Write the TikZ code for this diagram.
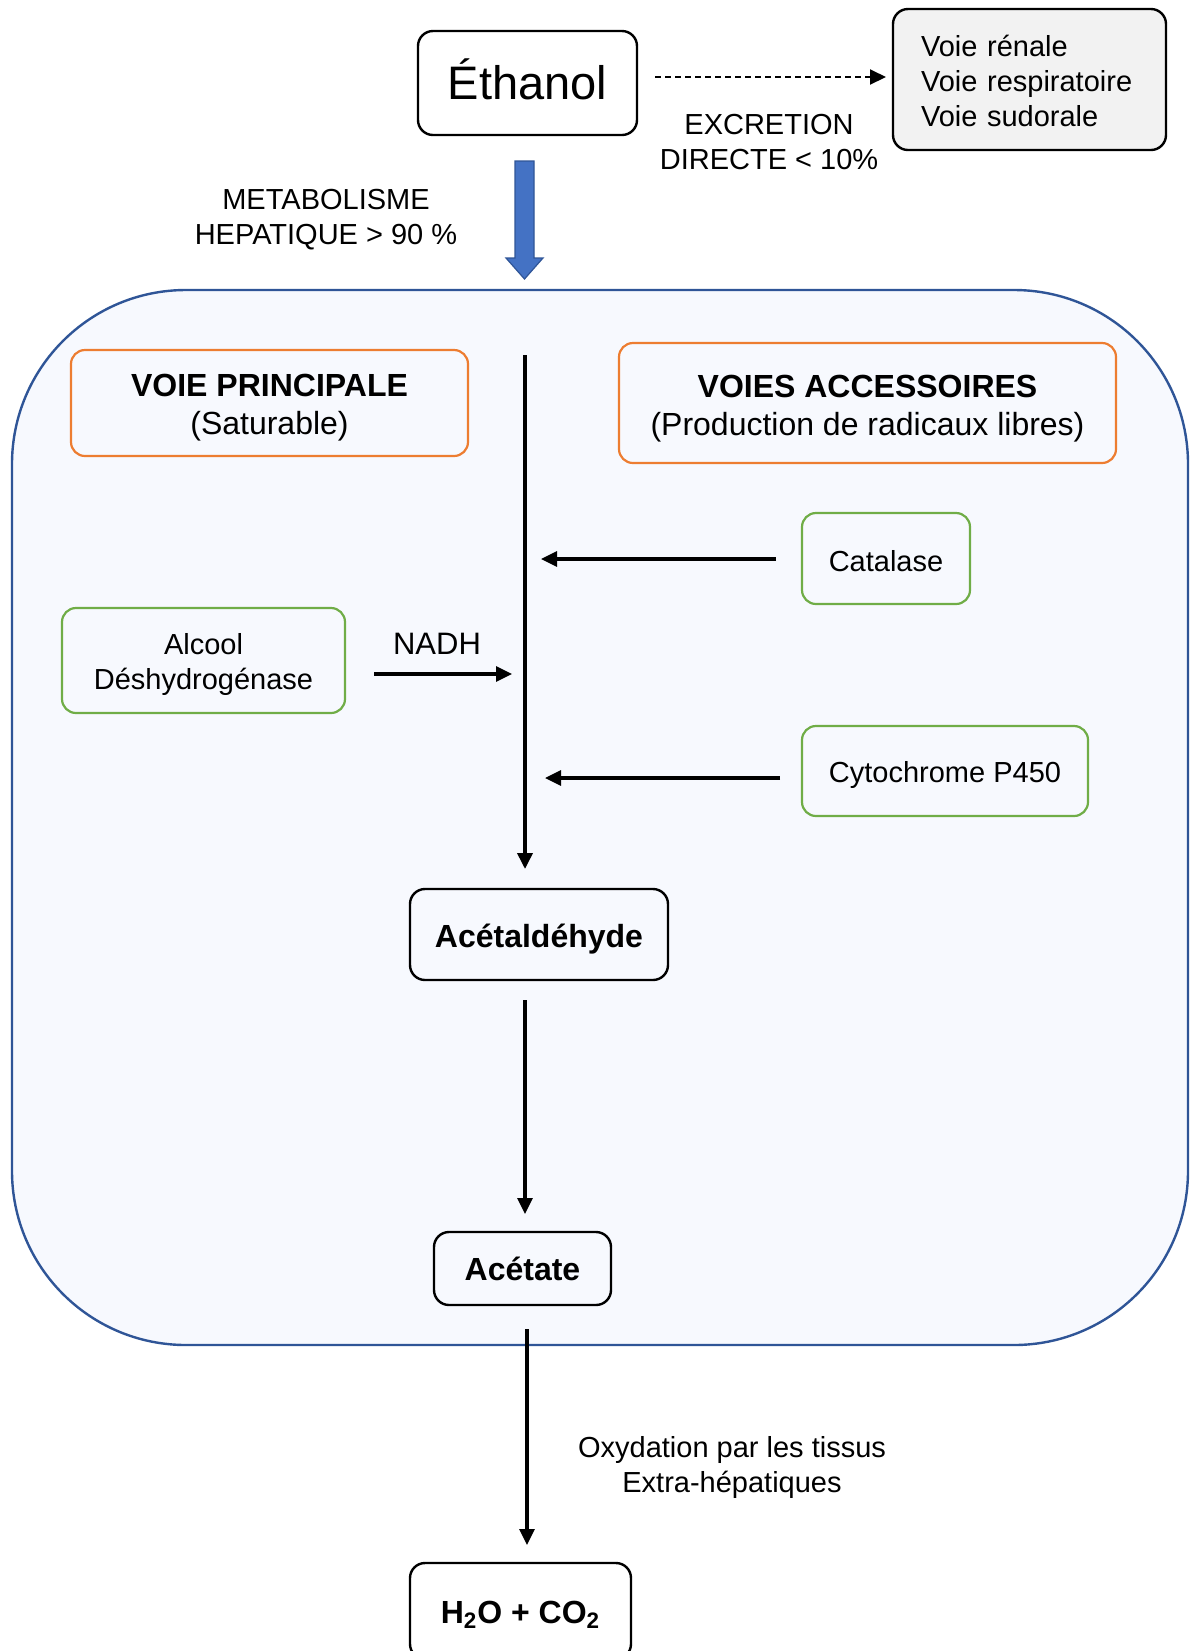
\documentclass[tikz,border=0pt]{standalone}
\usepackage{fontspec}
\setmainfont{Liberation Sans}
\usetikzlibrary{arrows.meta}
\definecolor{liverblue}{RGB}{47,85,151}
\definecolor{liverfill}{RGB}{247,249,254}
\definecolor{arrowblue}{RGB}{68,114,196}
\definecolor{pathorange}{RGB}{237,125,49}
\definecolor{enzgreen}{RGB}{112,173,71}
\definecolor{exgray}{RGB}{242,242,242}
\newcommand{\txtn}{\fontsize{14.5}{17.5}\selectfont}
\newcommand{\txth}{\fontsize{16}{19}\selectfont}
% invisible strut: lowers the text inside a box
\newcommand{\capstrut}[1]{\rule{0pt}{#1em}}

\begin{document}
\begin{tikzpicture}[x=0.5pt,y=-0.5pt,
  blackbox/.style={draw,line width=1.2pt,rounded corners=7.5pt,align=center,inner sep=0pt},
  pathbox/.style={draw=pathorange,line width=1.1pt,rounded corners=7pt,align=center,inner sep=0pt,font=\txth},
  enzbox/.style={draw=enzgreen,line width=1.1pt,rounded corners=7pt,align=center,inner sep=0pt,font=\txtn},
  arr/.style={-{Triangle[length=8pt,width=7.5pt]},line width=1.6pt}]
  \useasboundingbox (0,0) rectangle (1190,1651);

  % Liver compartment
  \draw[liverblue,fill=liverfill,line width=1.2pt,rounded corners=87pt]
    (12,290) rectangle (1188,1345);

  % Ethanol and direct excretion
  \node[blackbox,minimum width=109.5pt,minimum height=52pt,font=\fontsize{23.5}{28}\selectfont]
    (eth) at (527.5,83) {\rule[-4pt]{0pt}{0pt}Éthanol};
  \node[blackbox,fill=exgray,align=left,text width=108.5pt,inner xsep=14pt,
    minimum height=70.5pt,font=\txtn] (excr) at (1029.5,79.5)
    {\capstrut{0.87}Voie rénale\\Voie respiratoire\\Voie sudorale};
  \coordinate (exs) at (655,77);
  \coordinate (exe) at (886,77);
  \draw[-{Triangle[length=8pt,width=7.5pt]},line width=1pt,dash pattern=on 3pt off 2pt]
    (exs) -- (exe);
  \node[align=center,font=\txtn] (exlab) at (769,142) {EXCRETION\\DIRECTE < 10\%};

  % Hepatic metabolism
  \fill[arrowblue,draw=liverblue,line width=0.6pt]
    (515,161) -- (534,161) -- (534,258) -- (543,258) -- (524.5,279)
    -- (506,258) -- (515,258) -- cycle;
  \node[align=center,font=\txtn] (metlab) at (326,220) {METABOLISME\\HEPATIQUE > 90 \%};

  % Pathway headers
  \node[pathbox,minimum width=198.5pt,minimum height=53pt] (princ) at (269.5,403)
    {\capstrut{0.99}\textbf{VOIE PRINCIPALE}\\(Saturable)};
  \node[pathbox,minimum width=248.5pt,minimum height=60pt] (acc) at (867.5,403)
    {\capstrut{1.06}\textbf{VOIES ACCESSOIRES}\\(Production de radicaux libres)};

  % Main axis
  \coordinate (maintop) at (525,355);
  \coordinate (mainend) at (525,869);
  \draw[arr,line width=1.8pt] (maintop) -- (mainend);

  % Enzymes
  \node[enzbox,minimum width=84pt,minimum height=45.5pt] (cat) at (886,558.5)
    {\capstrut{0.875}Catalase};
  \node[enzbox,minimum width=141.5pt,minimum height=52.5pt] (adh) at (203.5,660.5)
    {\capstrut{1.02}Alcool\\Déshydrogénase};
  \node[enzbox,minimum width=143pt,minimum height=45pt] (cyp) at (945,771)
    {\capstrut{1.02}Cytochrome P450};

  \coordinate (cats) at (776,559);
  \coordinate (cate) at (541,559);
  \draw[arr] (cats) -- (cate);
  \coordinate (nadhs) at (374,674);
  \coordinate (nadhe) at (512,674);
  \draw[arr] (nadhs) -- (nadhe);
  \node[font=\fontsize{15.5}{18}\selectfont] (nadh) at (437,644) {NADH};
  \coordinate (cyps) at (780,778);
  \coordinate (cype) at (545,778);
  \draw[arr] (cyps) -- (cype);

  % Products
  \node[blackbox,minimum width=129pt,minimum height=45.5pt,font=\txth] (acald) at (539,934.5)
    {\capstrut{0.99}\textbf{Acétaldéhyde}};
  \node[blackbox,minimum width=88.5pt,minimum height=36.5pt,font=\txth] (acet) at (522.5,1268.5)
    {\textbf{Acétate}};
  \node[blackbox,minimum width=110.5pt,minimum height=48pt,font=\txth] (final) at (520.5,1611)
    {\capstrut{0.93}\textbf{H\textsubscript{2}O + CO\textsubscript{2}}};

  \coordinate (a1) at (525,1000);
  \coordinate (a2) at (525,1214);
  \draw[arr] (a1) -- (a2);
  \coordinate (b1) at (527,1329);
  \coordinate (b2) at (527,1545);
  \draw[arr] (b1) -- (b2);
  \node[align=center,font=\txtn] (oxlab) at (732,1467)
    {Oxydation par les tissus\\Extra-hépatiques};
\end{tikzpicture}
\end{document}
